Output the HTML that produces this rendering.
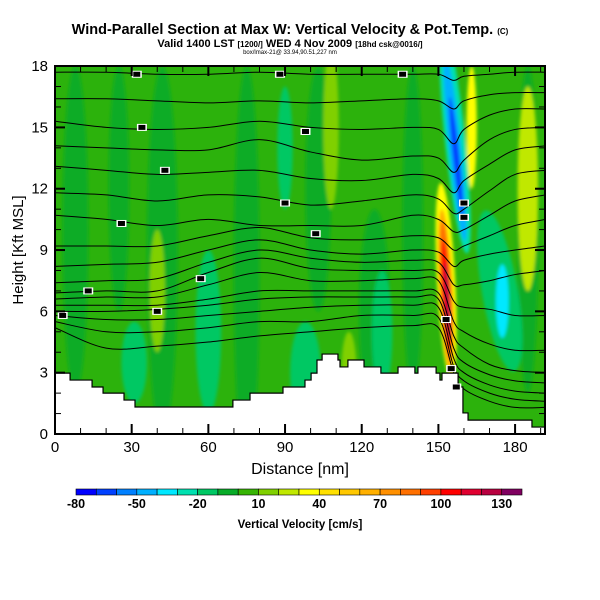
<!DOCTYPE html>
<html><head><meta charset="utf-8"><style>
html,body{margin:0;padding:0;background:#fff;}
svg{display:block;font-family:"Liberation Sans",sans-serif;}
</style></head><body>
<svg id="chart" width="600" height="600" viewBox="0 0 600 600">
<defs>
<clipPath id="plotclip"><rect x="55" y="66" width="490" height="368"/></clipPath>
<filter id="soft" x="-20%" y="-20%" width="140%" height="140%"><feGaussianBlur stdDeviation="1.6"/></filter>
</defs>
<g>
<text x="290" y="34" text-anchor="middle" font-size="14.5" font-weight="bold">Wind-Parallel Section at Max W: Vertical Velocity &amp; Pot.Temp. <tspan font-size="8">(C)</tspan></text>
<text x="290" y="47" text-anchor="middle" font-size="11" font-weight="bold">Valid 1400 LST <tspan font-size="8">[1200/]</tspan> WED 4 Nov 2009 <tspan font-size="8">[18hd csk@0016/]</tspan></text>
<text x="290" y="54" text-anchor="middle" font-size="6">box/lmax-21@ 33.94,90.51,227 nm</text>
</g>
<g clip-path="url(#plotclip)">
<rect x="55" y="66" width="490" height="368" fill="#2cb20c"/>
<g id="blobs" filter="url(#soft)"></g>
<g id="contours"></g>
<g id="terrain"></g>
<g id="clabels"></g>
</g>
<rect x="55" y="66" width="490" height="368" fill="none" stroke="#000" stroke-width="2"/>
<g id="axes"></g>
<text x="300" y="474" text-anchor="middle" font-size="16">Distance [nm]</text>
<text x="0" y="0" transform="translate(23,250) rotate(-90)" text-anchor="middle" font-size="15">Height [Kft MSL]</text>
<g id="colorbar"></g>
<text x="300" y="528" text-anchor="middle" font-size="11.5" font-weight="bold">Vertical Velocity [cm/s]</text>
</svg>
<script>
// ---- data ----
const colorBins = ["#0000ff","#0040ff","#0080ff","#00b0ff","#00e8ff","#00e0b0","#00c864","#08ac28","#36b404","#80d000","#c0e800","#ffff00","#ffe000","#ffc800","#ffb000","#ff9000","#ff7000","#ff4000","#ff0000","#e00030","#b80040","#800060"];
const cbLabels = [-80,-50,-20,10,40,70,100,130];
const xTicks = [0,30,60,90,120,150,180];
const yTicks = [0,3,6,9,12,15,18];
// terrain step profile: edges (nm) and heights (kft)
const terrainEdges = [0,5.9,14.5,18.8,27,31.3,69.6,76.3,89.2,97.8,100.2,102.5,104.5,110.7,111.5,114.6,120.9,127.5,134.2,140.8,142,149.1,150.6,151.4,157.7,159.6,161.6,186.6,192];
const terrainHeights = [2.98,2.64,2.3,2.0,1.66,1.32,1.66,2.0,2.3,2.64,2.98,3.62,3.91,3.62,3.28,3.62,3.28,2.98,3.28,2.98,3.28,2.98,2.64,2.98,2.3,1.03,0.68,0.34];
// velocity features
const blobD   = [8,25,42,75,90,103,125,140,185,60,98,128,31,40,108,115,185,174,175,163,156.5,156.5,157,153,153,153,153,153.5];
const blobH   = [10,12,9,8,14,12,6,10,10,5,3,5,3.5,7,15,3,12,7,6.5,15,14.4,14,13.5,7.5,7,7,6.8,6.5];
const blobRD  = [5,4,6,5,3,5,6,4,4,5,6,4,5,3,3,3,4,7,2.5,2,4,2.4,1.2,3.6,2.6,2,1.5,0.9];
const blobRH  = [8,6,9,10,3,6,5,8,8,4,2.5,3,2,3,4,2,5,4,1.8,3,5.6,4.6,3,4.8,4,3.4,2.7,1.9];
const blobV   = [-5,-5,-5,-5,-15,-5,-5,-5,-5,-15,-15,-15,-15,15,15,15,20,-20,-35,35,-30,-50,-70,35,60,85,105,125];
const blobRot = [0,0,0,0,0,0,0,0,0,0,0,0,0,0,0,0,0,-10,0,0,-6,-6,-6,-3,-3,-3,-3,-3];
// isentropes: heights (kft) at nodes
const nodeD = [0,20,40,60,80,100,120,140,150,156,160,170,180,192];
const theta = [
[17.7,17.7,17.6,17.6,17.7,17.6,17.6,17.6,17.6,17.3,17.5,17.6,17.7,17.7],
[16.4,16.4,16.3,16.2,16.3,16.2,16.3,16.4,16.3,15.9,16.3,16.6,16.7,16.7],
[15.3,15.0,14.9,15.0,15.3,15.0,14.9,15.0,14.9,14.2,14.9,15.6,15.9,15.9],
[14.1,14.0,13.9,13.9,14.4,13.8,13.4,13.6,13.5,12.8,13.4,14.4,14.9,15.0],
[13.1,12.9,12.7,12.8,12.9,12.5,12.4,12.7,12.5,11.8,12.4,13.2,13.9,14.1],
[11.8,11.7,11.4,11.7,11.6,11.2,11.4,11.7,11.5,10.8,11.0,11.9,12.7,12.9],
[10.7,10.5,10.2,10.5,10.2,10.2,10.2,10.7,10.5,9.9,10.0,10.7,11.4,11.7],
[9.2,9.2,9.2,9.7,10.1,9.6,9.5,9.7,9.6,9.0,9.2,9.7,10.2,10.5],
[8.2,8.3,8.4,9.0,9.5,9.0,8.8,9.0,8.9,8.2,8.5,8.8,9.0,9.2],
[7.4,7.5,7.6,8.4,9.0,8.6,8.4,8.5,8.4,7.3,7.3,7.5,7.8,8.0],
[6.9,7.0,7.0,7.9,8.6,8.1,8.0,8.0,7.9,6.5,6.2,6.1,5.8,5.8],
[6.6,6.7,6.7,7.3,7.9,7.5,7.5,7.6,7.5,5.5,5.0,4.4,4.1,4.1],
[6.3,6.3,6.3,6.6,7.0,7.0,7.0,7.0,6.9,4.8,4.2,3.4,3.1,3.0],
[6.0,6.0,6.1,6.3,6.6,6.7,6.7,6.7,6.6,4.2,3.5,2.9,2.6,2.5],
[5.8,5.6,5.6,5.8,6.0,6.2,6.3,6.3,6.2,3.7,3.0,2.4,2.1,2.0],
[5.5,5.0,5.0,5.2,5.5,5.5,5.8,5.8,5.7,3.3,2.6,2.0,1.7,1.6],
[5.2,4.2,4.3,4.5,4.8,5.0,5.2,5.3,5.2,3.0,2.2,1.6,1.3,1.3]
];
const labelD = [32,88,136,34,98,43,90,160,26,102,160,13,40,57,3,153,155,157];
const labelH = [17.6,17.6,17.6,15.0,14.8,12.9,11.3,11.3,10.3,9.8,10.6,7.0,6.0,7.6,5.8,5.6,3.2,2.3];

// ---- axis functions ----
const X = d => 55 + d*2.556;
const Y = h => 434 - h*20.44;
const NS = "http://www.w3.org/2000/svg";
function mk(tag, attrs, parent){const e=document.createElementNS(NS,tag);for(const k in attrs)e.setAttribute(k,attrs[k]);parent.appendChild(e);return e;}
function colorOf(v){let i=Math.floor((v+80)/10);i=Math.max(0,Math.min(colorBins.length-1,i));return colorBins[i];}

// blobs
const gB=document.getElementById('blobs');
for(let i=0;i<blobD.length;i++){
  const cx=X(blobD[i]), cy=Y(blobH[i]);
  const el=mk('ellipse',{cx:cx,cy:cy,rx:blobRD[i]*2.556,ry:blobRH[i]*20.44,fill:colorOf(blobV[i]),transform:`rotate(${blobRot[i]} ${cx} ${cy})`},gB);
  
  
}
// contours
function smooth(pts){let d=`M${pts[0][0]},${pts[0][1]}`;for(let i=0;i<pts.length-1;i++){const p0=pts[i-1]||pts[i],p1=pts[i],p2=pts[i+1],p3=pts[i+2]||p2;
d+=` C${p1[0]+(p2[0]-p0[0])/6},${p1[1]+(p2[1]-p0[1])/6} ${p2[0]-(p3[0]-p1[0])/6},${p2[1]-(p3[1]-p1[1])/6} ${p2[0]},${p2[1]}`;}return d;}
const gC=document.getElementById('contours');
theta.forEach(line=>{
  const pts=line.map((h,i)=>[X(nodeD[i]),Y(h)]);
  const el=mk('path',{d:smooth(pts),fill:'none',stroke:'#000','stroke-width':1},gC);
  
  
});
// terrain
const gT=document.getElementById('terrain');
let tp=`M${X(0)},${Y(terrainHeights[0])}`;
for(let i=0;i<terrainHeights.length;i++){tp+=` L${X(terrainEdges[i])},${Y(terrainHeights[i])} L${X(terrainEdges[i+1])},${Y(terrainHeights[i])}`;}
tp+=` L${X(192)},${Y(-1)} L${X(0)},${Y(-1)} Z`;
const terr=mk('path',{d:tp,fill:'#fff',stroke:'#000','stroke-width':1.2},gT);


// contour labels
const gL=document.getElementById('clabels');
for(let i=0;i<labelD.length;i++){
  const r=mk('rect',{x:X(labelD[i])-5,y:Y(labelH[i])-3.5,width:10,height:7,fill:'#fff'},gL);
  
  
  const r2=mk('rect',{x:X(labelD[i])-3.5,y:Y(labelH[i])-2.5,width:7,height:5,fill:'#000'},gL);
  
  
}
// axes
const gA=document.getElementById('axes');
for(let d=10;d<192;d+=10){const maj=d%30===0,len=maj?10:6,w=maj?2:1;
  let t=mk('line',{x1:X(d),x2:X(d),y1:434,y2:434-len,stroke:'#000','stroke-width':w},gA);
  t=mk('line',{x1:X(d),x2:X(d),y1:66,y2:66+len,stroke:'#000','stroke-width':w},gA);}
for(let h=1;h<18;h++){const maj=h%3===0,len=maj?10:6,w=maj?2:1;
  let t=mk('line',{x1:55,x2:55+len,y1:Y(h),y2:Y(h),stroke:'#000','stroke-width':w},gA);
  t=mk('line',{x1:545,x2:545-len,y1:Y(h),y2:Y(h),stroke:'#000','stroke-width':w},gA);}
xTicks.forEach(v=>{const t=mk('text',{x:X(v),y:452,'text-anchor':'middle','font-size':15},gA);t.textContent=v;
  });
yTicks.forEach(v=>{const t=mk('text',{x:48,y:Y(v)+5,'text-anchor':'end','font-size':15},gA);t.textContent=v;
  });
// colorbar
const gCB=document.getElementById('colorbar');
const cbX=76, cbW=446/colorBins.length;
colorBins.forEach((c,i)=>{const r=mk('rect',{x:cbX+i*cbW,y:489,width:cbW,height:6,fill:c,stroke:'#000','stroke-width':0.6},gCB);
  });
cbLabels.forEach(v=>{const t=mk('text',{x:cbX+(v+80)/10*cbW,y:508,'text-anchor':'middle','font-size':12.5,'font-weight':'bold'},gCB);t.textContent=v;
  });
</script>
</body></html>
